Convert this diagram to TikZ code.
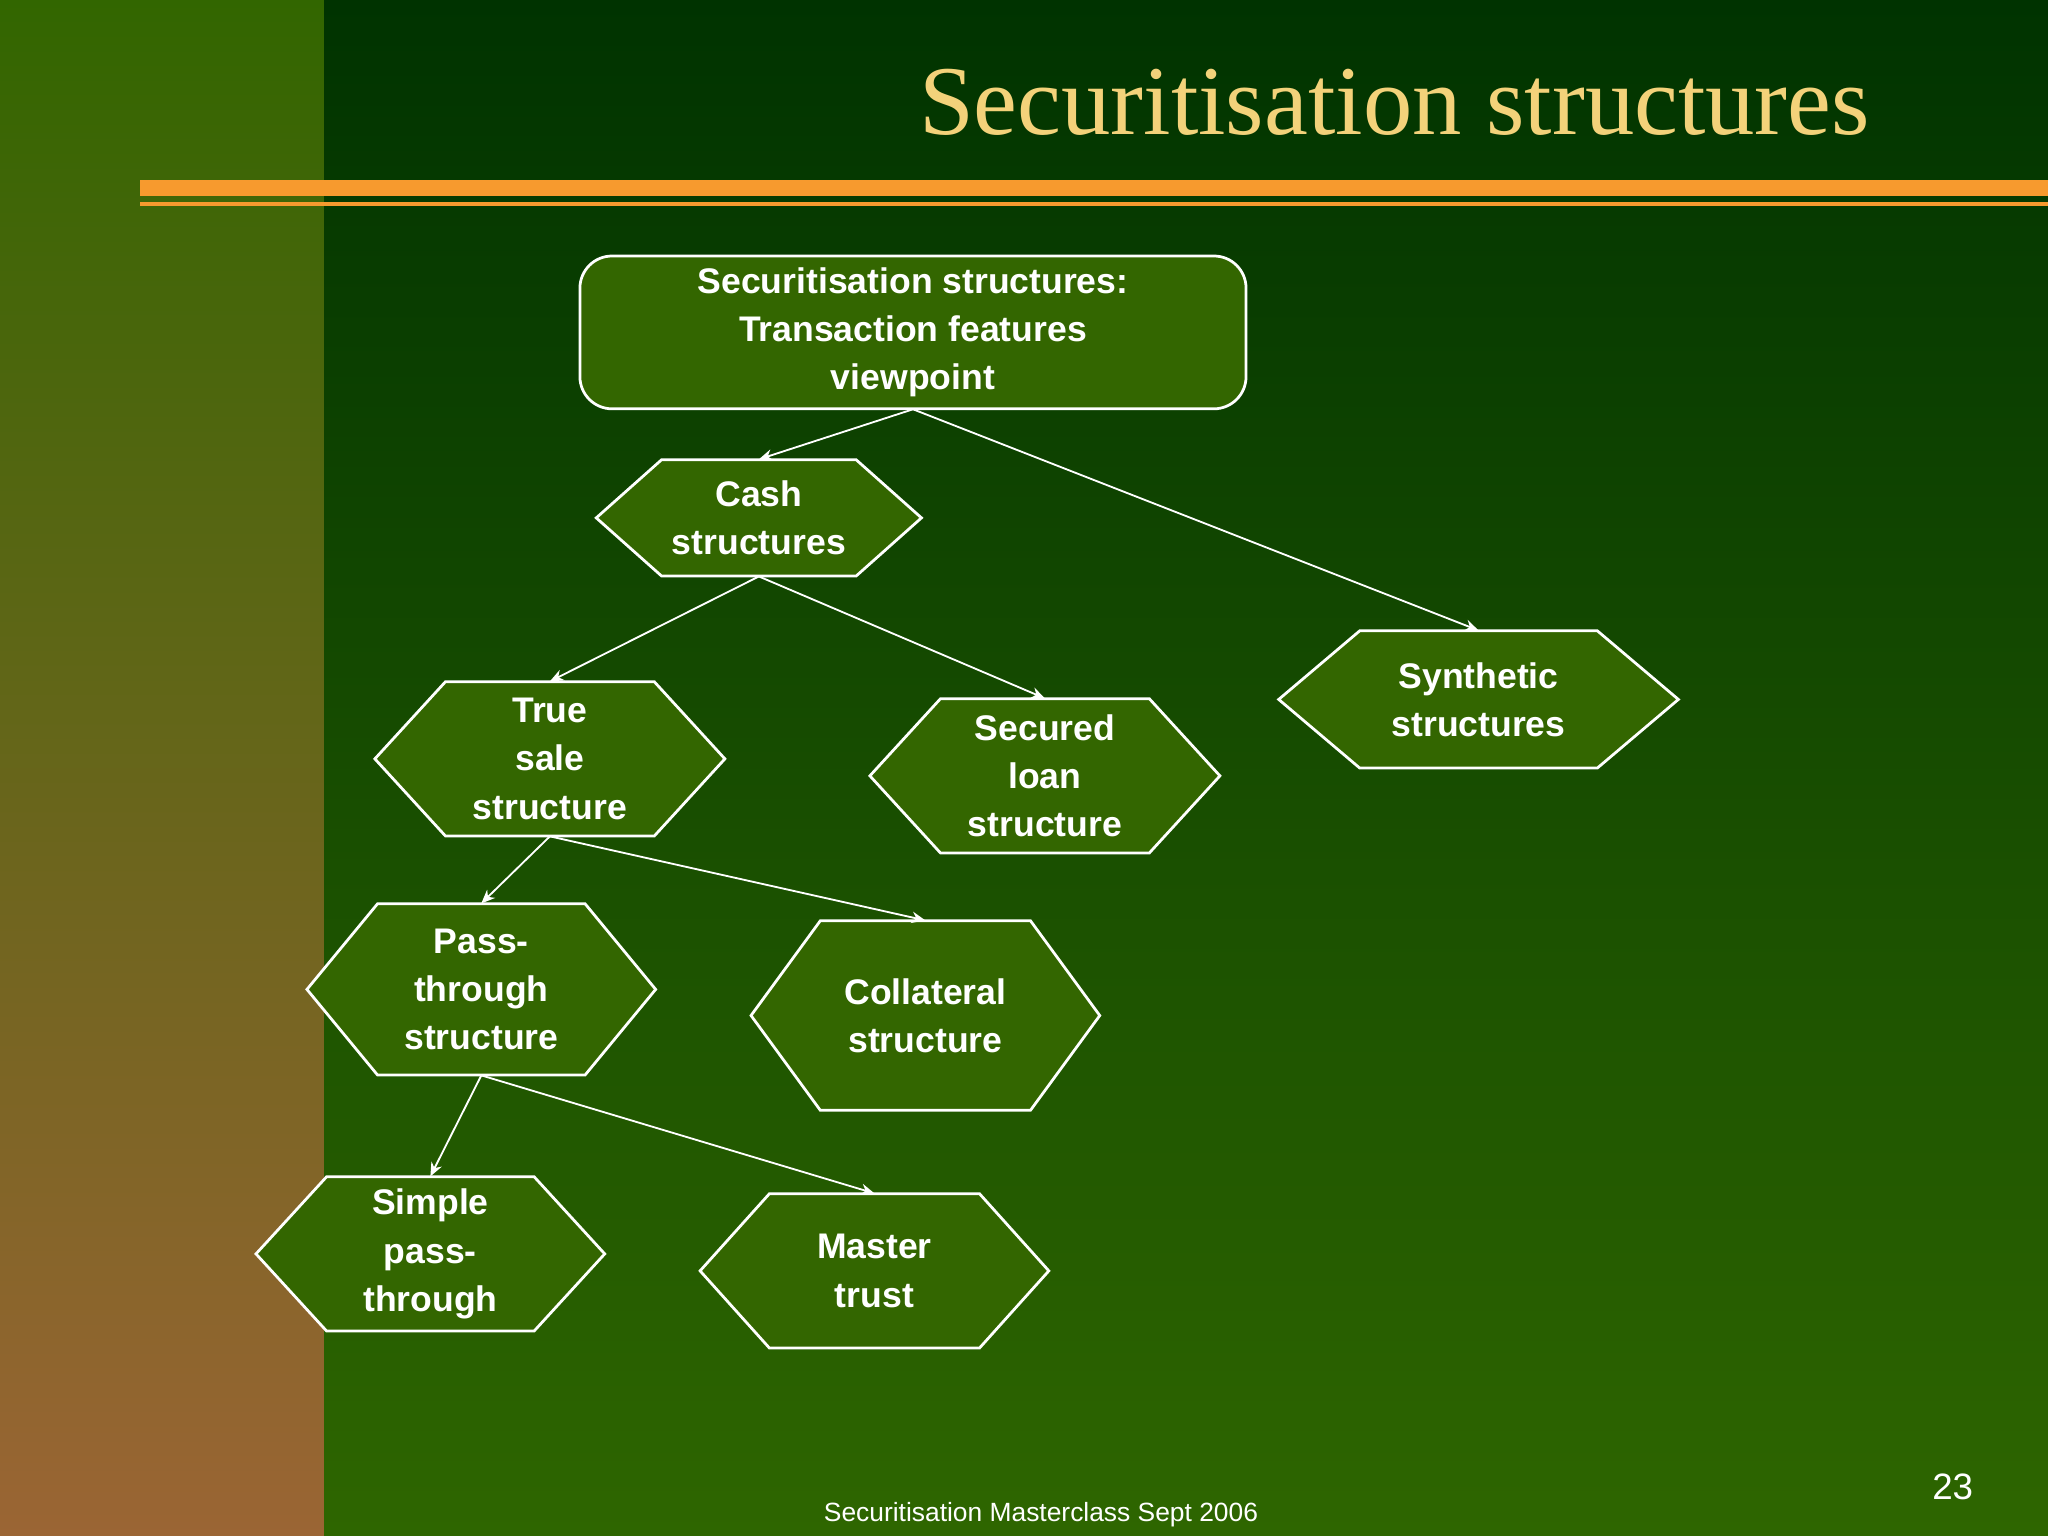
\documentclass[tikz,border=0pt]{standalone}
\usepackage{fontspec}
\setmainfont{Liberation Sans}
\newfontfamily\titlefont{Liberation Serif}
\usetikzlibrary{arrows.meta}
\definecolor{hexfill}{HTML}{336600}
\definecolor{titlecol}{HTML}{F3D27A}
\definecolor{orangeline}{HTML}{F79A2E}
\newcommand\hexnode[7]{%
  \draw[hexbox] (#2-#4,-#3) -- (#2-#4+#6,-#3+#5) -- (#2+#4-#6,-#3+#5) -- (#2+#4,-#3) -- (#2+#4-#6,-#3-#5) -- (#2-#4+#6,-#3-#5) -- cycle;
  \node[lbl,minimum height={#5*0.04cm}] (#1) at (#2,-#3) {#7};}
\begin{document}
\begin{tikzpicture}[x=0.02cm,y=0.02cm,
  hexbox/.style={draw=white,line width=1.2pt,fill=hexfill},
  lbl/.style={inner sep=0pt,align=center,text=white,font=\fontsize{15.5}{21}\selectfont\bfseries},
  conn/.style={draw=white,line width=0.8pt,-{Stealth[length=6pt,width=5pt]}}]
\useasboundingbox (0,0) rectangle (1568,-1176);
\shade[top color={rgb,255:red,0;green,51;blue,0},bottom color={rgb,255:red,46;green,102;blue,0}] (248,0) rectangle (1568,-1176);
\shade[top color={rgb,255:red,50;green,102;blue,0},middle color={rgb,255:red,110;green,105;blue,35},bottom color={rgb,255:red,155;green,101;blue,52}] (0,0) rectangle (248,-1176);
\fill[orangeline] (107,-138) rectangle (1568,-150);
\fill[orangeline] (107,-155) rectangle (1568,-158);
\node[anchor=base east,text=titlecol,font=\titlefont\fontsize{43}{50}\selectfont,inner sep=0] (title) at (1432,-103) {Securitisation structures};
% top box
\draw[hexbox,rounded corners=14pt] (444,-196) rectangle (954,-313);
\node[lbl,minimum height={117*0.02cm}] (top) at (699,-254.5) {Securitisation structures:\\Transaction features\\viewpoint};
\hexnode{cash}{581}{396.5}{124.5}{44.5}{50}{Cash\\structures}
\hexnode{synth}{1132}{535.5}{153}{52.5}{62}{Synthetic\\structures}
\hexnode{truesale}{421}{581}{134}{59}{54}{True\\sale\\structure}
\hexnode{secured}{800}{594}{134}{59}{54}{Secured\\loan\\structure}
\hexnode{pass}{368.5}{757.5}{133.5}{65.5}{54}{Pass-\\through\\structure}
\hexnode{coll}{708.5}{777.5}{133.5}{72.5}{53}{Collateral\\structure}
\hexnode{simple}{329.5}{960}{133.5}{59}{54}{Simple\\pass-\\through}
\hexnode{master}{669.5}{973}{133.5}{59}{53}{Master\\trust}
\draw[conn] (top.south) -- (cash.north);
\draw[conn] (top.south) -- (synth.north);
\draw[conn] (cash.south) -- (truesale.north);
\draw[conn] (cash.south) -- (secured.north);
\draw[conn] (truesale.south) -- (pass.north);
\draw[conn] (truesale.south) -- (coll.north);
\draw[conn] (pass.south) -- (simple.north);
\draw[conn] (pass.south) -- (master.north);
\node[anchor=base,text=white,font=\fontsize{11.5}{14}\selectfont] (foot) at (797,-1165) {Securitisation Masterclass Sept 2006};
\node[anchor=base,text=white,font=\fontsize{16}{18}\selectfont] (pg) at (1495,-1148) {23};
\end{tikzpicture}
\end{document}
